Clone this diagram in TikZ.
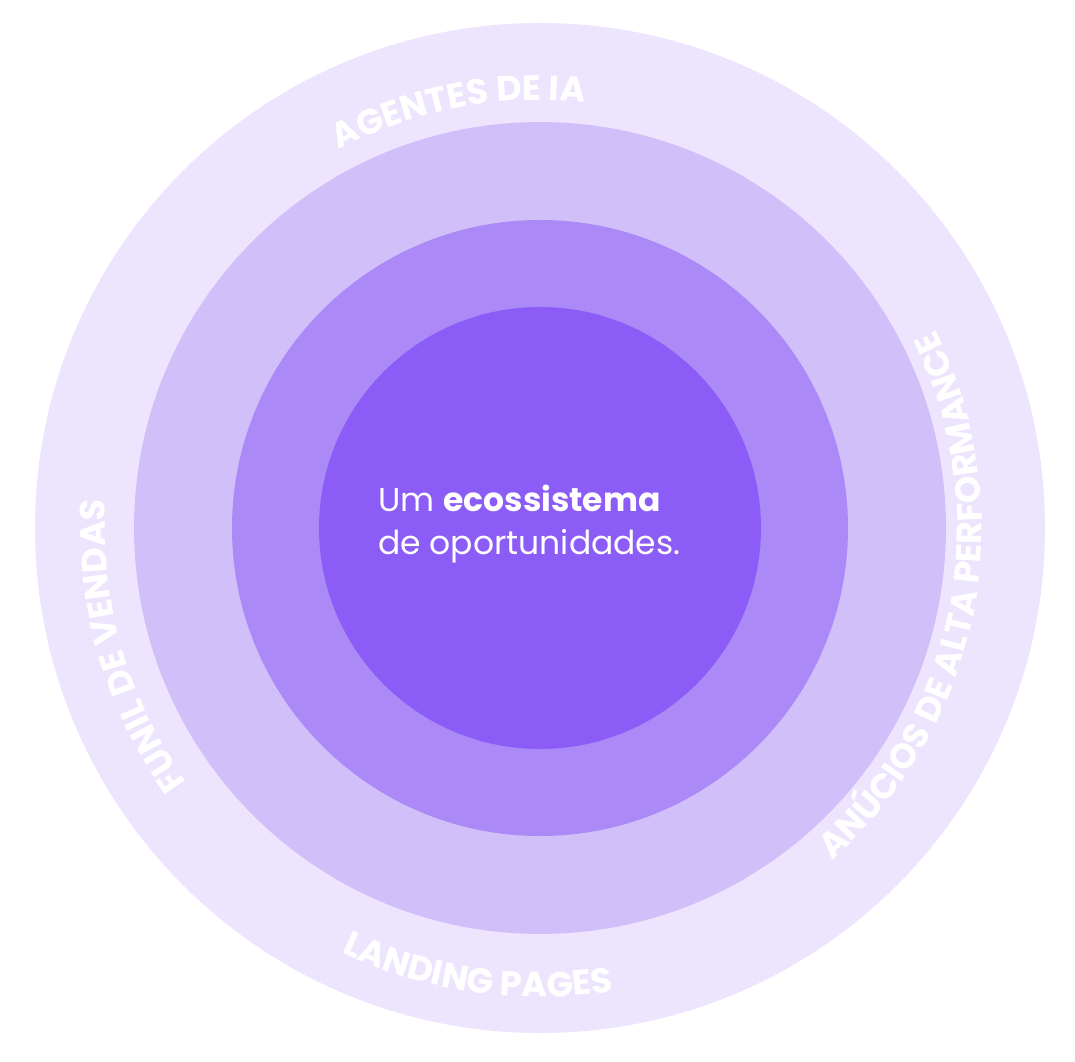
\documentclass[tikz,border=0pt]{standalone}
\usepackage{fontspec}
\setmainfont{Poppins}
\usetikzlibrary{decorations.text}
\definecolor{c1}{HTML}{EDE5FD}
\definecolor{c2}{HTML}{D1BFFA}
\definecolor{c3}{HTML}{AB8AF7}
\definecolor{c4}{HTML}{8B5CF6}
\begin{document}
\begin{tikzpicture}[x=1pt,y=1pt,
  arc/.style={decorate,decoration={text along path,text align=center,text color=white,
    text={|\bfseries\fontsize{35}{35}\selectfont|#1}}}]
\useasboundingbox (0,0) rectangle (1075,1061);
\coordinate (c) at (540,533);
\fill[c1] (c) circle (505);
\fill[c2] (c) circle (406);
\fill[c3] (c) circle (308);
\fill[c4] (c) circle (221);
\path[arc={AGENTES DE IA}] (c) ++(151:428) arc[start angle=151,end angle=51,radius=428];
\path[arc={FUNIL DE VENDAS}] (c) ++(246:435) arc[start angle=246,end angle=146,radius=435];
\path[arc={LANDING PAGES}] (c) ++(212:469) arc[start angle=212,end angle=312,radius=469];
\path[arc={ANÚCIOS DE ALTA PERFORMANCE}] (c) ++(-85:442) arc[start angle=-85,end angle=63,radius=442];
\node[anchor=west,align=left,text=white,font=\fontsize{33}{43}\selectfont,inner sep=0] (t) at (378,537)
  {Um \textbf{ecossistema}\\de oportunidades.};
\end{tikzpicture}
\end{document}
